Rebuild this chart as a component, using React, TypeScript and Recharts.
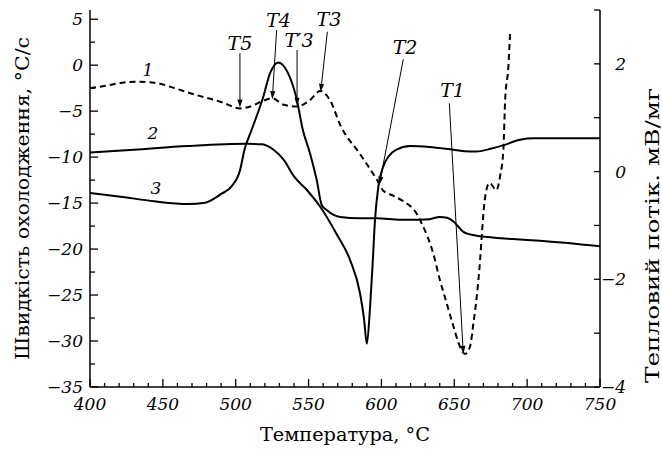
import React from 'react';
import { ComposedChart, Line, XAxis, YAxis, ReferenceLine, ReferenceDot } from 'recharts';

const FONT = '"DejaVu Serif", "Liberation Serif", serif';

// curve 1 (dashed)
const temp1 = [400, 412, 422, 431, 444, 458, 472, 490, 503, 510, 517, 525, 533, 542, 551, 558, 565, 572, 585, 597, 601, 608, 615, 624, 627.6, 635.6, 640.2, 644.8, 649.4, 652.9, 657.4, 660.8, 663.1, 665.4, 667.7, 668.8, 670.4, 672.3, 674.2, 678.8, 681.4, 683.7, 684.9, 687.1, 688.3];
const rate1 = [-2.5, -2.2, -1.9, -1.8, -1.9, -2.5, -3.2, -4.0, -4.7, -4.5, -4.0, -3.6, -4.3, -4.5, -3.8, -2.8, -3.9, -6.6, -9.6, -12.5, -13.6, -14.2, -14.8, -16.1, -17.2, -20.5, -23.4, -25.9, -28.4, -30.2, -31.4, -30.6, -28.1, -25.2, -21.2, -18.7, -15.4, -13.4, -12.8, -13.6, -12.1, -9.2, -3.8, -0.2, 3.5];

// curve 2
const temp2 = [400, 430, 467, 508, 518, 522, 526, 533, 540, 549, 558, 569, 578.5, 585.3, 588, 590, 592.2, 594, 595.6, 597.9, 601.3, 605, 610, 619.6, 633, 647, 657, 665, 675, 684, 695, 705, 750];
const rate2 = [-9.5, -9.2, -8.8, -8.55, -8.6, -8.8, -9.2, -10.3, -12.1, -13.6, -15.4, -18.3, -21.2, -24.8, -27.5, -30.3, -26.3, -21.5, -16.8, -13.2, -11.0, -9.9, -9.2, -8.8, -8.9, -9.15, -9.35, -9.4, -9.1, -8.7, -8.1, -7.95, -7.95];

// curve 3
const temp3 = [400, 421, 444, 467, 479, 490, 497, 503, 506, 511, 519, 523.5, 529.3, 536, 542, 546, 551, 555.6, 559, 562.4, 571.6, 585, 597, 613, 626, 633, 640, 645, 649.4, 653, 656, 662, 668, 690, 709, 750];
const rate3 = [-13.9, -14.3, -14.8, -15.1, -14.95, -14.0, -13.2, -11.4, -9.2, -7.0, -3.4, -0.9, 0.3, -0.9, -3.8, -7.0, -9.6, -12.5, -15.2, -15.75, -16.5, -16.65, -16.65, -16.8, -16.8, -16.75, -16.5, -16.6, -17.0, -17.6, -18.1, -18.45, -18.6, -18.9, -19.1, -19.7];

const xTicks = [400, 410, 420, 430, 440, 450, 460, 470, 480, 490, 500, 510, 520, 530, 540, 550, 560, 570, 580, 590, 600, 610, 620, 630, 640, 650, 660, 670, 680, 690, 700, 710, 720, 730, 740, 750];
const leftTicks = [-35, -32.5, -30, -27.5, -25, -22.5, -20, -17.5, -15, -12.5, -10, -7.5, -5, -2.5, 0, 2.5, 5];
const rightTicks = [-4, -3, -2, -1, 0, 1, 2, 3];

// annotations: label position, arrow start, arrow tip (°C, °C/s)
const markNames = ['T5', 'T4', 'T\u20323', 'T3', 'T2', 'T1'];
const markLabelT = [502.9, 529.4, 543.4, 564, 616.2, 648.8];
const markLabelV = [2.4, 4.9, 2.74, 4.97, 1.98, -2.75];
const markFromT = [502.9, 528.1, 542.1, 562.9, 615.0, 646.6];
const markFromV = [1.3, 3.83, 1.65, 3.64, 0.64, -4.15];
const markToT = [502.9, 525.1, 542.1, 558.3, 598.6, 656.2];
const markToV = [-4.6, -3.7, -4.4, -2.9, -13.0, -31.4];

const curveNames = ['1', '2', '3'];
const curveLabelT = [439.8, 443.2, 445.3];
const curveLabelV = [-0.53, -7.38, -13.36];

const series1 = temp1.map((t, i) => ({ t, v: rate1[i] }));
const series2 = temp2.map((t, i) => ({ t, v: rate2[i] }));
const series3 = temp3.map((t, i) => ({ t, v: rate3[i] }));

const fmt = (v: number) => (v < 0 ? '\u2212' + Math.abs(v) : String(v));

const LeftTick = (props: any) => {
  const { x, y, payload } = props;
  const v = payload.value;
  const major = v % 5 === 0;
  return (
    <g>
      <line x1={x} x2={x + (major ? 8 : 5)} y1={y} y2={y} stroke="#000" strokeWidth={1.3} />
      {major && (
        <text x={x - 7} y={y} dy="0.36em" textAnchor="end" fontFamily={FONT} fontStyle="italic" fontSize={17} fill="#000">
          {fmt(v)}
        </text>
      )}
    </g>
  );
};

const RightTick = (props: any) => {
  const { x, y, payload } = props;
  const v = payload.value;
  return (
    <g>
      <line x1={x} x2={x - 6} y1={y} y2={y} stroke="#000" strokeWidth={1.3} />
      {v % 2 === 0 && (
        <text x={x + 26} y={y} dy="0.36em" textAnchor="end" fontFamily={FONT} fontStyle="italic" fontSize={17} fill="#000">
          {fmt(v)}
        </text>
      )}
    </g>
  );
};

const BottomTick = (props: any) => {
  const { x, y, payload } = props;
  const v = payload.value;
  const major = v % 50 === 0;
  return (
    <g>
      <line x1={x} x2={x} y1={y} y2={y - (major ? 8 : 4)} stroke="#000" strokeWidth={1.3} />
      {major && (
        <text x={x} y={y + 23} textAnchor="middle" fontFamily={FONT} fontStyle="italic" fontSize={17} fill="#000">
          {v}
        </text>
      )}
    </g>
  );
};

const Arrow = (props: any) => {
  const { x1, y1, x2, y2 } = props;
  const dx = x2 - x1;
  const dy = y2 - y1;
  const len = Math.sqrt(dx * dx + dy * dy) || 1;
  const ux = dx / len;
  const uy = dy / len;
  const hl = 8;
  const hw = 2.6;
  const bx = x2 - ux * hl;
  const by = y2 - uy * hl;
  return (
    <g>
      <line x1={x1} y1={y1} x2={bx} y2={by} stroke="#000" strokeWidth={1} />
      <polygon points={`${x2},${y2} ${bx - uy * hw},${by + ux * hw} ${bx + uy * hw},${by - ux * hw}`} fill="#000" />
    </g>
  );
};

const textLabel = (txt: string, size: number) => (props: any) => (
  <text x={props.cx} y={props.cy} dy="0.36em" textAnchor="middle" fontFamily={FONT} fontStyle="italic" fontSize={size} fill="#000">
    {txt}
  </text>
);

const LeftTitle = (props: any) => {
  const vb = props.viewBox || { x: 0, y: 10, width: 90, height: 377 };
  const cx = vb.x + 22;
  const cy = vb.y + vb.height / 2;
  return (
    <text x={cx} y={cy} transform={`rotate(-90 ${cx} ${cy})`} textAnchor="middle" dominantBaseline="central" fontFamily={FONT} fontSize={19} textLength={323} lengthAdjust="spacingAndGlyphs" fill="#000">
      Швидкість охолодження, °C/с
    </text>
  );
};

const RightTitle = (props: any) => {
  const vb = props.viewBox || { x: 600, y: 10, width: 62, height: 377 };
  const cx = vb.x + 52;
  const cy = vb.y + vb.height / 2 + 37;
  return (
    <text x={cx} y={cy} transform={`rotate(-90 ${cx} ${cy})`} textAnchor="middle" dominantBaseline="central" fontFamily={FONT} fontSize={19} textLength={295} lengthAdjust="spacingAndGlyphs" fill="#000">
      Тепловий потік. мВ/мг
    </text>
  );
};

const BottomTitle = (props: any) => {
  const vb = props.viewBox || { x: 90, y: 387, width: 510, height: 64 };
  return (
    <text x={vb.x + vb.width / 2} y={vb.y + 54} textAnchor="middle" fontFamily={FONT} fontSize={19} textLength={170} lengthAdjust="spacingAndGlyphs" fill="#000">
      Температура, °C
    </text>
  );
};

export default function App() {
  return (
    <div style={{ position: 'absolute', left: 0, top: 0, width: 662, height: 451, background: '#fff' }}>
      <ComposedChart width={662} height={451} margin={{ top: 10, right: 0, bottom: 0, left: 0 }}>
        <XAxis
          type="number"
          dataKey="t"
          domain={[400, 750]}
          ticks={xTicks}
          interval={0}
          allowDataOverflow
          height={64}
          tickSize={0}
          tickMargin={0}
          axisLine={{ stroke: '#000', strokeWidth: 1.5 }}
          tickLine={false}
          tick={<BottomTick />}
          label={<BottomTitle />}
        />
        <YAxis
          yAxisId="left"
          orientation="left"
          type="number"
          domain={[-35, 6]}
          ticks={leftTicks}
          interval={0}
          allowDataOverflow
          width={90}
          tickSize={0}
          tickMargin={0}
          axisLine={{ stroke: '#000', strokeWidth: 1.5 }}
          tickLine={false}
          tick={<LeftTick />}
          label={<LeftTitle />}
        />
        <YAxis
          yAxisId="right"
          orientation="right"
          type="number"
          domain={[-4, 3]}
          ticks={rightTicks}
          interval={0}
          allowDataOverflow
          width={62}
          tickSize={0}
          tickMargin={0}
          axisLine={{ stroke: '#000', strokeWidth: 1.5 }}
          tickLine={false}
          tick={<RightTick />}
          label={<RightTitle />}
        />
        <Line yAxisId="left" data={series1} dataKey="v" type="monotone" stroke="#000" strokeWidth={2} strokeDasharray="6 4" dot={false} activeDot={false} isAnimationActive={false} />
        <Line yAxisId="left" data={series2} dataKey="v" type="monotone" stroke="#000" strokeWidth={2} dot={false} activeDot={false} isAnimationActive={false} />
        <Line yAxisId="left" data={series3} dataKey="v" type="monotone" stroke="#000" strokeWidth={2} dot={false} activeDot={false} isAnimationActive={false} />
        {markNames.map((n, i) => (
          <ReferenceLine
            key={'a' + n}
            yAxisId="left"
            segment={[{ x: markFromT[i], y: markFromV[i] }, { x: markToT[i], y: markToV[i] }]}
            shape={<Arrow />}
            ifOverflow="visible"
          />
        ))}
        {markNames.map((n, i) => (
          <ReferenceDot key={'l' + n} yAxisId="left" x={markLabelT[i]} y={markLabelV[i]} r={0} shape={textLabel(n, 19)} ifOverflow="visible" />
        ))}
        {curveNames.map((n, i) => (
          <ReferenceDot key={'c' + n} yAxisId="left" x={curveLabelT[i]} y={curveLabelV[i]} r={0} shape={textLabel(n, 17)} ifOverflow="visible" />
        ))}
      </ComposedChart>
    </div>
  );
}
